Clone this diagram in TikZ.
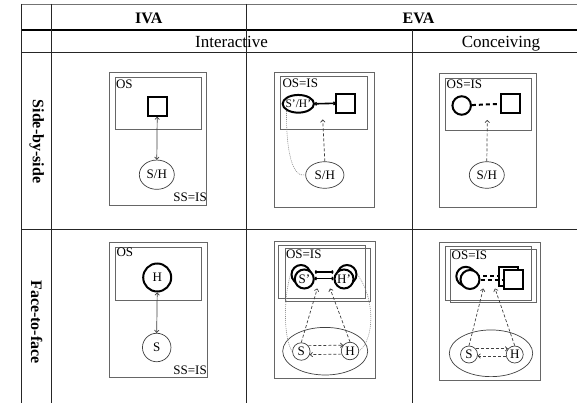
\documentclass[tikz,border=0pt]{standalone}
\usepackage{fontspec}
\setmainfont{Liberation Serif}
\usetikzlibrary{arrows.meta,calc,shapes.geometric}
\tikzset{
  tbl/.style={draw=black!85, line width=0.9pt},
  hdr/.style={font=\rmfamily\fontsize{16}{18}\selectfont\bfseries, inner sep=0pt},
  sub/.style={font=\rmfamily\fontsize{17}{19}\selectfont, inner sep=0pt},
  cellbox/.style={draw=black!60, line width=0.9pt, rectangle, inner sep=0pt},
  lab/.style={font=\rmfamily\fontsize{13}{14}\selectfont, inner sep=0pt},
  smlab/.style={font=\rmfamily\fontsize{11.5}{12}\selectfont, inner sep=0pt},
  thk/.style={draw=black, line width=2pt, inner sep=0pt},
  thinshape/.style={draw=black!75, line width=0.7pt, inner sep=0pt},
  dbl/.style={draw=black!75, line width=0.7pt, {To[length=3pt,width=5pt]}-{To[length=3pt,width=5pt]}},
  tarr/.style={draw=black, line width=1.6pt, {To[length=2pt,width=4pt]}-{To[length=2pt,width=4pt]}},
  darr/.style={draw=black!75, line width=0.7pt, dash pattern=on 3pt off 2pt, -{To[length=3pt,width=5pt]}},
  dotc/.style={draw=black!45, line width=0.6pt, dash pattern=on 1pt off 1pt},
  thkdash/.style={draw=black, line width=2pt, dash pattern=on 4pt off 3pt}
}
\begin{document}
\begin{tikzpicture}[x=1pt,y=-1pt]
\path[fill=white] (0,0) rectangle (577,403);
\useasboundingbox (0,0) rectangle (577,403);

% table grid
\draw[draw=black!55, line width=0.9pt] (21.3,4) -- (577,4);
\draw[line width=2.4pt] (21.3,30) -- (577,30);
\draw[tbl] (21.3,52) -- (577,52);
\draw[tbl] (21.3,229) -- (577,229);
\draw[tbl] (21.3,4) -- (21.3,403);
\draw[tbl] (51.7,4) -- (51.7,403);
\draw[tbl] (246,4) -- (246,403);
\draw[tbl] (412,30) -- (412,403);

% headers
\node[hdr, anchor=base] (hiva) at (148.8,23.3) {IVA};
\node[hdr, anchor=base] (heva) at (418.5,23.3) {EVA};
\node[sub, anchor=base] (hint) at (231.5,47.5) {Interactive};
\node[sub, anchor=base] (hcon) at (501,47.5) {Conceiving};
\node[hdr, rotate=-90] (rside) at (36.7,141.5) {Side-by-side};
\node[hdr, rotate=-90] (rface) at (36.7,322) {Face-to-face};

% ---- cell 1: IVA side-by-side
\node[cellbox, minimum width=96.7pt, minimum height=132.3pt] (o1) at (157.65,138.85) {};
\node[cellbox, minimum width=86.7pt, minimum height=51.6pt] (s1) at (158.35,103.5) {};
\node[lab, anchor=base west] (l1) at (115.8,88.3) {OS};
\node[thk, minimum size=19pt] (q1) at (157.2,106.3) {};
\node[thinshape, ellipse, minimum width=35pt, minimum height=29.3pt, lab] (e1) at (156.8,174.7) {S/H};
\node[lab, anchor=base east] (ss1) at (207,201) {SS=IS};
\draw[dbl] (q1.south) -- (e1.north);

% ---- cell 2: EVA interactive side-by-side
\node[cellbox, minimum width=99.7pt, minimum height=135pt] (o2) at (324.15,139.8) {};
\node[cellbox, minimum width=87.3pt, minimum height=52.6pt] (s2) at (323.65,103) {};
\node[lab, anchor=base west] (l2) at (282.3,87.5) {OS=IS};
\node[thk, ellipse, minimum width=31.3pt, minimum height=17.7pt] (e2) at (298.3,103.8) {};
\node[smlab] (e2t) at (e2) {S'/H'};
\node[thk, minimum size=18.7pt] (q2) at (345.5,103.3) {};
\draw[tarr] (e2.east) -- (q2.west);
\node[thinshape, ellipse, minimum width=38.3pt, minimum height=26.6pt, lab] (e3) at (324.8,175) {S/H};
\coordinate (t2) at (322.7,119.5);
\draw[darr] (e3.north) -- (t2);
\draw[dotc] (e2.south west) .. controls (286,150) and (292,178) .. (e3.west);

% ---- cell 3: EVA conceiving side-by-side
\node[cellbox, minimum width=97.4pt, minimum height=134pt] (o3) at (488,140.3) {};
\node[cellbox, minimum width=86pt, minimum height=52.4pt] (s3) at (488,104.5) {};
\node[lab, anchor=base west] (l3) at (446.5,89) {OS=IS};
\node[thk, circle, minimum size=18.5pt] (c3) at (461.7,105.5) {};
\node[thk, minimum size=19pt] (q3) at (510.3,103.5) {};
\draw[thkdash] (c3) -- (q3);
\node[thinshape, ellipse, minimum width=35pt, minimum height=26.6pt, lab] (e4) at (486.8,175) {S/H};
\coordinate (t3) at (487.3,120);
\draw[darr] (e4.north) -- (t3);

% ---- cell 4: IVA face-to-face
\node[cellbox, minimum width=98.4pt, minimum height=135pt] (o4) at (158.5,310.2) {};
\node[cellbox, minimum width=86.7pt, minimum height=52.7pt] (s4) at (158.35,273.65) {};
\node[lab, anchor=base west] (l4) at (116.3,256.3) {OS};
\node[thk, circle, minimum size=28pt, lab] (h4) at (157.2,277.5) {H};
\node[thinshape, circle, minimum size=28.5pt, lab] (s4c) at (156.7,347.5) {S};
\node[lab, anchor=base east] (ss4) at (207,374.5) {SS=IS};
\draw[dbl] (h4.south) -- (s4c.north);

% ---- cell 5: EVA interactive face-to-face
\node[cellbox, minimum width=100.7pt, minimum height=136.6pt] (o5) at (324.65,310) {};
\node[cellbox, minimum width=86.7pt, minimum height=53.3pt] (s5a) at (321.65,271.65) {};
\node[cellbox, minimum width=85.7pt, minimum height=53.4pt] (s5b) at (327.85,275) {};
\node[lab, anchor=base west] (l5) at (285.8,258.3) {OS=IS};
\node[thinshape, ellipse, minimum width=85pt, minimum height=47.6pt] (b5) at (325.2,351.2) {};
\node[thk, circle, minimum size=19pt, fill=white] (spb) at (301,274.5) {};
\node[thk, circle, minimum size=19pt, fill=white] (hpb) at (347,274.5) {};
\node[thk, circle, minimum size=19pt, fill=white, lab] (spf) at (304.3,279) {S'};
\node[thk, circle, minimum size=19pt, fill=white, lab] (hpf) at (344,279) {H'};
\draw[tarr] ($(spf.east)+(0,-7)$) -- ($(hpf.west)+(0,-7)$);
\draw[tarr] ($(spf.east)+(0,-0.5)$) -- ($(hpf.west)+(0,-0.5)$);
\node[thinshape, circle, minimum size=17.5pt, lab, fill=white] (s5) at (301.3,351.5) {S};
\node[thinshape, circle, minimum size=17.5pt, lab, fill=white] (h5) at (350,351) {H};
\draw[darr] (s5.40) -- (h5.140);
\draw[darr] (h5.-160) -- (s5.-20);
\coordinate (t5a) at (317.3,288.5);
\coordinate (t5b) at (330,288.5);
\draw[darr] (s5.north) -- (t5a);
\draw[darr] (h5.north) -- (t5b);
\draw[dotc] (spb.west) .. controls (283,300) and (284,340) .. (s5.west);
\draw[dotc] (hpb.east) .. controls (376,300) and (374,340) .. (h5.east);

% ---- cell 6: EVA conceiving face-to-face
\node[cellbox, minimum width=100.7pt, minimum height=137.3pt] (o6) at (489.65,311.35) {};
\node[cellbox, minimum width=86.7pt, minimum height=54pt] (s6a) at (488.35,273) {};
\node[cellbox, minimum width=86.7pt, minimum height=53.4pt] (s6b) at (493.35,276) {};
\node[lab, anchor=base west] (l6) at (451.5,259.5) {OS=IS};
\node[thk, circle, minimum size=19pt, fill=white] (cb6) at (465.8,276.3) {};
\node[thk, minimum size=19pt, fill=white] (qb6) at (508.7,276.3) {};
\draw[thkdash] (cb6) -- (qb6);
\node[thk, circle, minimum size=19pt, fill=white] (cf6) at (470,279.5) {};
\node[thk, minimum size=19pt, fill=white] (qf6) at (513.7,279.5) {};
\draw[thkdash] (cf6) -- (qf6);
\node[thinshape, ellipse, minimum width=83.4pt, minimum height=46.7pt] (b6) at (491,353.3) {};
\node[thinshape, circle, minimum size=17pt, lab, fill=white] (s6) at (469,354.5) {S};
\node[thinshape, circle, minimum size=17pt, lab, fill=white] (h6) at (514.7,354.5) {H};
\draw[darr] (s6.40) -- (h6.140);
\draw[darr] (h6.-170) -- (s6.-10);
\coordinate (t6a) at (483.3,288.5);
\coordinate (t6b) at (495,288.5);
\draw[darr] (s6.north) -- (t6a);
\draw[darr] (h6.north) -- (t6b);
\end{tikzpicture}
\end{document}
